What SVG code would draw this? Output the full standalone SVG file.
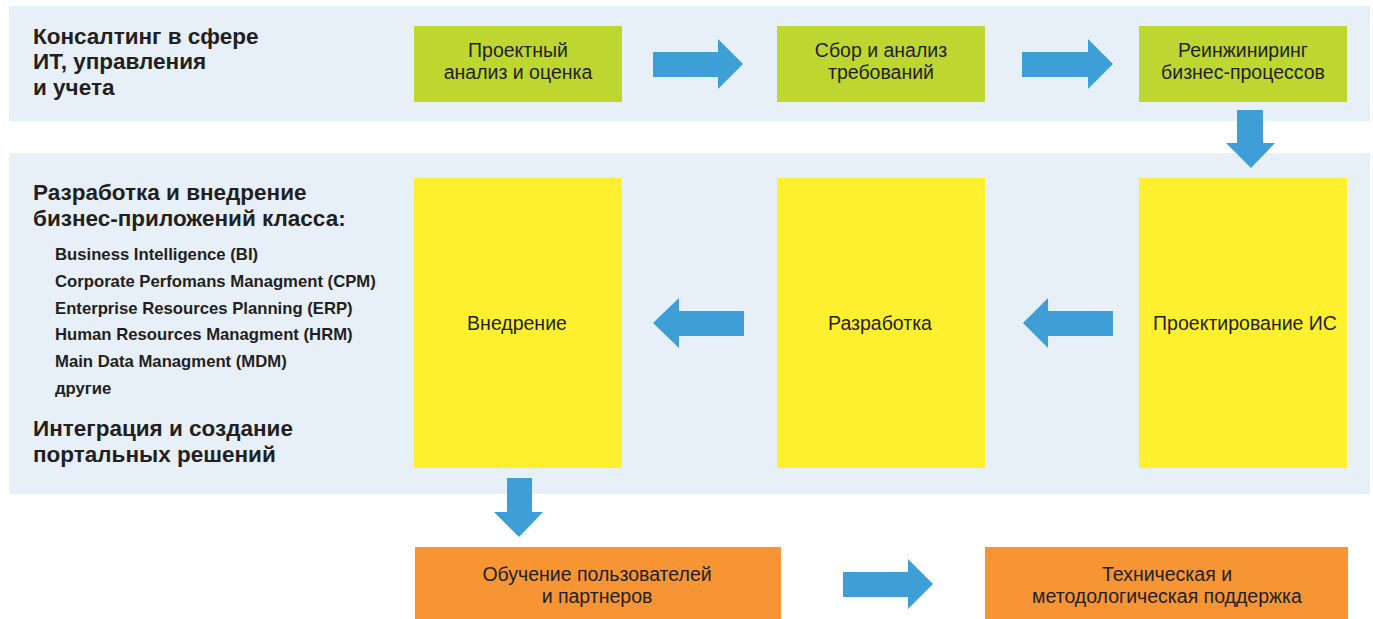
<svg xmlns="http://www.w3.org/2000/svg" width="1373" height="619" viewBox="0 0 1373 619">
<style>
.band{fill:#E7EFF9}
.green{fill:#BED630}
.yellow{fill:#FFF02F}
.orange{fill:#F79433}
.arrow{fill:#3D9FD6}
.t{font-family:"Liberation Sans",Arial,sans-serif;font-size:19.5px;fill:#231F20;text-anchor:middle}
.h{font-family:"Liberation Sans",Arial,sans-serif;font-size:22.5px;font-weight:bold;fill:#231F20}
.s{font-family:"Liberation Sans",Arial,sans-serif;font-size:16.7px;font-weight:bold;fill:#231F20}
</style>
<rect width="1373" height="619" fill="#FFFFFF"/>
<g id="band1"><rect class="band" x="9" y="6" width="1361" height="115"/></g>
<g id="band2"><rect class="band" x="9" y="153" width="1361" height="341"/></g>

<g id="label-consulting">
<text class="h" x="33" y="44">Консалтинг в сфере</text>
<text class="h" x="33" y="69">ИТ, управления</text>
<text class="h" x="33" y="95">и учета</text>
</g>
<g id="label-development">
<text class="h" x="33" y="200">Разработка и внедрение</text>
<text class="h" x="33" y="226">бизнес-приложений класса:</text>
<text class="s" x="55" y="260">Business Intelligence (BI)</text>
<text class="s" x="55" y="287">Corporate Perfomans Managment (CPM)</text>
<text class="s" x="55" y="314">Enterprise Resources Planning (ERP)</text>
<text class="s" x="55" y="340">Human Resources Managment (HRM)</text>
<text class="s" x="55" y="367">Main Data Managment (MDM)</text>
<text class="s" x="55" y="394">другие</text>
</g>
<g id="label-integration">
<text class="h" x="33" y="436">Интеграция и создание</text>
<text class="h" x="33" y="462">портальных решений</text>
</g>

<g id="node-analysis">
<rect class="green" x="414" y="26" width="208" height="76"/>
<text class="t" x="518" y="57">Проектный</text>
<text class="t" x="518" y="79">анализ и оценка</text>
</g>
<g id="node-requirements">
<rect class="green" x="777" y="26" width="208" height="76"/>
<text class="t" x="881" y="57">Сбор и анализ</text>
<text class="t" x="881" y="79">требований</text>
</g>
<g id="node-reengineering">
<rect class="green" x="1139" y="26" width="208" height="76"/>
<text class="t" x="1243" y="57">Реинжиниринг</text>
<text class="t" x="1243" y="79">бизнес-процессов</text>
</g>

<g id="node-implementation">
<rect class="yellow" x="414" y="178" width="208" height="290"/>
<text class="t" x="517" y="330">Внедрение</text>
</g>
<g id="node-development">
<rect class="yellow" x="777" y="178" width="208" height="290"/>
<text class="t" x="880" y="330">Разработка</text>
</g>
<g id="node-design">
<rect class="yellow" x="1139" y="178" width="208" height="290"/>
<text class="t" x="1245" y="330">Проектирование ИС</text>
</g>

<g id="node-training">
<rect class="orange" x="415" y="547" width="366" height="72"/>
<text class="t" x="597" y="581">Обучение пользователей</text>
<text class="t" x="597" y="603">и партнеров</text>
</g>
<g id="node-support">
<rect class="orange" x="985" y="547" width="363" height="72"/>
<text class="t" x="1167" y="581">Техническая и</text>
<text class="t" x="1167" y="603">методологическая поддержка</text>
</g>

<g id="connectors">
<polygon class="arrow" points="653,52 718,52 718,39 743,64 718,89 718,77 653,77"/>
<polygon class="arrow" points="1022,52 1088,52 1088,39 1113,64 1088,89 1088,77 1022,77"/>
<polygon class="arrow" points="1237,110 1263,110 1263,143 1275,143 1251,168 1226,143 1237,143"/>
<polygon class="arrow" points="1113,311 1048,311 1048,298 1023,323 1048,348 1048,336 1113,336"/>
<polygon class="arrow" points="744,311 679,311 679,298 653,323 679,348 679,336 744,336"/>
<polygon class="arrow" points="507,478 532,478 532,512 543,512 519,537 494,512 507,512"/>
<polygon class="arrow" points="843,572 908,572 908,559 933,584 908,609 908,597 843,597"/>
</g>
</svg>
